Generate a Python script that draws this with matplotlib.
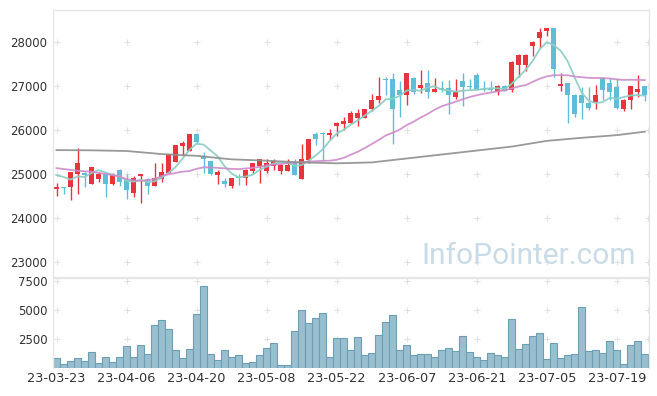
import numpy as np
import pandas as pd
import matplotlib
matplotlib.use('Agg')
import matplotlib.pyplot as plt

# trading days (KRX holidays removed)
holidays = ['2023-05-01', '2023-05-05', '2023-05-29', '2023-06-06']
dates = [d for d in pd.bdate_range('2023-03-23', '2023-07-25') if d.strftime('%Y-%m-%d') not in holidays]

opens = [24660, 24700, 24700, 25000, 25040, 24790, 24900, 25000, 24790, 25100,
         24870, 24580, 24950, 24900, 24740, 24900, 25040, 25280, 25650, 25540,
         25910, 25420, 25300, 24990, 24850, 24740, 24930, 24910, 25080, 25200,
         25080, 25200, 25080, 25080, 25260, 24900, 25330, 25910, 25950, 25900,
         26100, 26140, 26170, 26270, 26280, 26480, 26680, 27160, 27160, 26920,
         26800, 27200, 26960, 27070, 26880, 26960, 26960, 26760, 27110, 27000,
         27260, 26940, 26940, 26880, 27000, 26920, 27490, 27490, 27910, 28100,
         28250, 28330, 27010, 27070, 26810, 26810, 26630, 26620, 27200, 27070,
         26980, 26490, 26680, 26860, 27000]
highs = [24800, 24710, 25060, 25590, 25050, 25170, 25050, 25010, 25020, 25110,
         25000, 24950, 25010, 24910, 25250, 25250, 25470, 25670, 25760, 25920,
         25920, 25500, 25310, 25100, 24910, 24920, 25010, 25110, 25260, 25350,
         25340, 25340, 25230, 25340, 25340, 25700, 25810, 25970, 25960, 26020,
         26200, 26300, 26450, 26480, 26490, 26820, 27210, 27210, 27300, 27110,
         27300, 27210, 27380, 27380, 27180, 27120, 27150, 27160, 27300, 27170,
         27310, 27120, 27120, 27020, 27030, 27570, 27730, 27730, 28020, 28330,
         28330, 28330, 27300, 27080, 26820, 26990, 26990, 27030, 27210, 27180,
         27180, 26710, 27010, 27250, 27010]
lows = [24510, 24560, 24420, 24560, 24700, 24770, 24830, 24490, 24750, 24730,
        24440, 24490, 24340, 24550, 24730, 24830, 25020, 25270, 25420, 25530,
        25680, 25040, 24990, 24790, 24700, 24690, 24760, 24760, 25010, 24800,
        25020, 25100, 25010, 25080, 24990, 24890, 25250, 25660, 25300, 25790,
        25880, 26000, 26140, 26090, 26270, 26450, 26630, 26800, 25700, 26300,
        26570, 26820, 26840, 26740, 26870, 26870, 26370, 26720, 26550, 26940,
        26920, 26900, 26900, 26800, 26890, 26880, 27210, 27350, 27700, 27870,
        28140, 27220, 26900, 26160, 26300, 26260, 26460, 26480, 26700, 26700,
        26490, 26440, 26480, 26750, 26660]
closes = [24720, 24680, 25050, 25260, 24990, 25160, 25010, 24790, 25000, 24830,
          24640, 24910, 25000, 24740, 24910, 25050, 25460, 25660, 25720, 25910,
          25740, 25340, 25000, 25050, 24780, 24910, 24910, 25100, 25250, 25340,
          25250, 25300, 25210, 25210, 24990, 25340, 25800, 25800, 25910, 25950,
          26170, 26220, 26400, 26400, 26480, 26700, 26790, 27140, 26490, 26800,
          27300, 26870, 27030, 26880, 26930, 26910, 26800, 26870, 26990, 26990,
          26950, 26920, 26920, 27000, 26900, 27550, 27720, 27720, 28010, 28230,
          28330, 27400, 27060, 26800, 26370, 26620, 26500, 26810, 26910, 26860,
          26500, 26700, 27000, 26940, 26800]
volumes = [860, 350, 600, 860, 600, 1380, 430, 950, 520, 950,
           1900, 950, 1980, 1210, 3710, 4140, 3360, 1550, 860, 1640,
           4660, 7070, 1210, 690, 1550, 950, 1120, 430, 520, 1120,
           1720, 2160, 260, 260, 3190, 5000, 3880, 4310, 4740, 950,
           2590, 2590, 1550, 2670, 1120, 1290, 2850, 3970, 4570, 1550,
           1980, 1120, 1210, 1210, 950, 1550, 1720, 1470, 2760, 1380,
           950, 690, 1290, 1120, 950, 4220, 1640, 2070, 2760, 3020,
           780, 2160, 860, 1120, 1210, 5260, 1470, 1550, 1290, 2330,
           1550, 350, 1980, 2330, 1210]

# moving averages: values before the window are not visible, so the first
# points are read off the chart
ma5_head = [24980, 24940, 24880, 24950]
ma20_head = [25140, 25120, 25100, 25080, 25070, 25060, 25030, 25010, 24980, 24950,
             24890, 24860, 24850, 24870, 24890, 24960, 25000, 25030, 25060]
ma120_idx = [0, 5, 10, 15, 20, 25, 30, 35, 40, 45, 50, 55, 60, 65, 70, 75, 80, 84]
ma120_val = [25550, 25545, 25530, 25460, 25420, 25340, 25310, 25270, 25250, 25270,
             25360, 25450, 25540, 25630, 25760, 25830, 25890, 25970]

price_ticks = [23000, 24000, 25000, 26000, 27000, 28000]
vol_ticks = [2500, 5000, 7500]

RED = '#e8343c'
BLUE = '#5fbdd8'
GRID = '#e2e2e2'
FRAME = '#e6e6e6'
TXT = '#333333'

o = np.array(opens)
h = np.array(highs)
l = np.array(lows)
c = np.array(closes)
x = np.arange(len(c))

cs = pd.Series(c, dtype=float)
ma5 = cs.rolling(5).mean().values
ma5[:len(ma5_head)] = ma5_head
ma20 = cs.rolling(20).mean().values
ma20[:len(ma20_head)] = ma20_head

plt.rcParams['font.family'] = ['DejaVu Sans']

fig = plt.figure(figsize=(6.57, 3.96), dpi=100)
ax1 = fig.add_axes([0.0807, 0.3005, 0.9072, 0.6742])
ax2 = fig.add_axes([0.0807, 0.0699, 0.9072, 0.2273], sharex=ax1)

xt = list(range(0, len(c), 10))

# price panel
colors = np.where(c >= o, RED, BLUE)
ax1.vlines(x, l, h, color=colors, linewidth=1, zorder=2)
body = np.maximum(np.abs(c - o), 25)
ax1.bar(x, body, bottom=np.minimum(o, c), width=0.68, color=colors, linewidth=0, zorder=2)

ax1.plot(x, ma5, color='#8dcfc5', lw=1.3, alpha=0.95, zorder=3)
ax1.plot(x, ma20, color='#cd8cca', lw=1.3, alpha=0.9, zorder=3)
ax1.plot(ma120_idx, ma120_val, color='#8e8e8e', lw=1.3, alpha=0.9, zorder=3)

gx, gy = np.meshgrid(xt + [84.5], price_ticks)
ax1.plot(gx.ravel(), gy.ravel(), '+', color=GRID, ms=4, mew=0.8, zorder=1)

ax1.set_xlim(-0.5, 84.6)
ax1.set_ylim(22665, 28735)
ax1.set_yticks(price_ticks)
ax1.set_yticklabels([str(v) for v in price_ticks])
ax1.tick_params(axis='y', length=0, pad=4, labelsize=8.5, labelcolor=TXT)
ax1.tick_params(axis='x', length=0, labelbottom=False)
for s in ax1.spines.values():
    s.set_color(FRAME)
    s.set_linewidth(1)

fig.text(421 / 657, 1 - 264.5 / 396, 'InfoPointer.com', family='Roboto', fontsize=21.5,
         color='#c9dbe6', va='baseline', ha='left')

# volume panel
ax2.bar(x, volumes, width=1.0, color='#99bfcf', edgecolor='#6c9eb5', linewidth=0.8, zorder=2)
gx, gy = np.meshgrid(xt + [84.5], vol_ticks)
ax2.plot(gx.ravel(), gy.ravel(), '+', color=GRID, ms=4, mew=0.8, zorder=1)
ax2.set_ylim(0, 7760)
ax2.set_yticks(vol_ticks)
ax2.set_yticklabels([str(v) for v in vol_ticks])
ax2.set_xticks(xt)
ax2.set_xticklabels([dates[i].strftime('%y-%m-%d') for i in xt])
ax2.tick_params(axis='y', length=0, labelsize=8.5, labelcolor=TXT, pad=4)
ax2.tick_params(axis='x', length=0, labelsize=9.3, labelcolor=TXT, pad=3)
for s in ax2.spines.values():
    s.set_color(FRAME)
    s.set_linewidth(1)
ax2.spines['bottom'].set_visible(False)

plt.savefig('out.png', dpi=100)
plt.close()
